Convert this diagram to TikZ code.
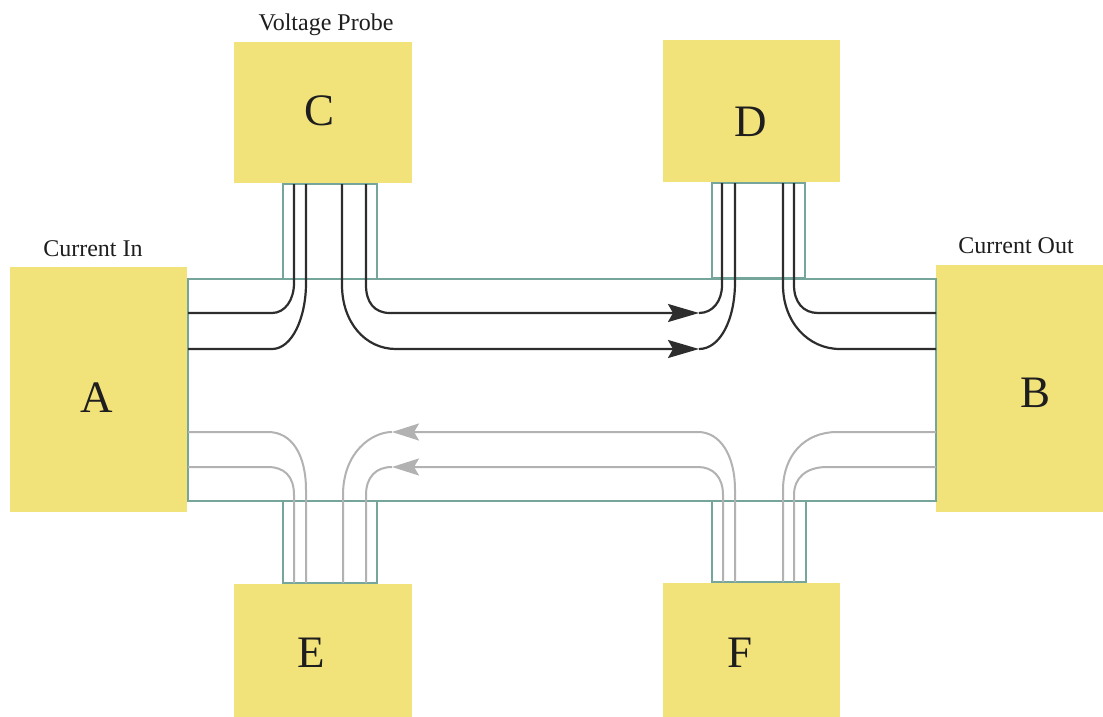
\documentclass[tikz,border=0pt]{standalone}
\usepackage{fontspec}
\setmainfont{Liberation Serif}
\usetikzlibrary{arrows.meta}
\definecolor{padyellow}{RGB}{242,226,122}
\definecolor{chanedge}{RGB}{118,165,155}
\definecolor{darkflow}{RGB}{45,45,45}
\definecolor{lightflow}{RGB}{178,178,178}
\definecolor{inktext}{RGB}{30,30,30}
\tikzset{
  pad/.style={fill=padyellow},
  chan/.style={draw=chanedge, line width=1.2pt},
  darkline/.style={draw=darkflow, line width=2.2pt},
  lightline/.style={draw=lightflow, line width=2pt},
  darktip/.style={-{Stealth[length=31pt,width=18pt,inset=5pt]}},
  lighttip/.style={-{Stealth[length=27pt,width=17pt,inset=5pt]}},
  caption/.style={text=inktext, font=\fontsize{24}{28}\selectfont, inner sep=0pt},
  padletter/.style={text=inktext, font=\fontsize{45}{50}\selectfont, inner sep=0pt, anchor=base},
}
\begin{document}
\begin{tikzpicture}[x=1pt,y=-1pt]
\useasboundingbox (0,0) rectangle (1103,717);
\fill[white] (0,0) rectangle (1103,717);

% contact pads
\fill[pad] (10,267) rectangle (187,512);
\fill[pad] (936,265) rectangle (1103,512);
\fill[pad] (234,42) rectangle (412,183);
\fill[pad] (663,40) rectangle (840,182);
\fill[pad] (234,584) rectangle (412,717);
\fill[pad] (663,583) rectangle (840,717);

% Hall bar channel and its four arms
\draw[chan] (188,279) rectangle (936,501);
\draw[chan] (283,184) rectangle (377,279);
\draw[chan] (712,183) rectangle (805,278);
\draw[chan] (283,501) rectangle (377,583);
\draw[chan] (712,501) rectangle (806,582);

% edge states along the upper edge (dark)
\draw[darkline] (188,313) -- (272,313) .. controls (285,313) and (294,300) .. (294,283) -- (294,184);
\draw[darkline] (188,349) -- (272,349) .. controls (292,349) and (306,318) .. (306,283) -- (306,184);
\draw[darkline, darktip] (366,184) -- (366,285) .. controls (366,302) and (374,313) .. (390,313) -- (699,313);
\draw[darkline, darktip] (342,184) -- (342,285) .. controls (342,322) and (365,349) .. (396,349) -- (699,349);
\draw[darkline] (699,313) .. controls (713,313) and (722,301) .. (722,285) -- (722,183);
\draw[darkline] (699,349) .. controls (720,349) and (735,320) .. (735,282) -- (735,183);
\draw[darkline] (783,183) -- (783,285) .. controls (783,322) and (808,349) .. (840,349) -- (936,349);
\draw[darkline] (794,183) -- (794,285) .. controls (794,302) and (803,313) .. (818,313) -- (936,313);

% edge states along the lower edge (light)
\draw[lightline] (188,432) -- (268,432) .. controls (292,432) and (306,455) .. (306,490) -- (306,583);
\draw[lightline] (188,467) -- (268,467) .. controls (284,467) and (294,476) .. (294,495) -- (294,583);
\draw[lightline, lighttip] (735,582) -- (735,490) .. controls (735,455) and (720,432) .. (698,432) -- (392,432);
\draw[lightline, lighttip] (723,582) -- (723,495) .. controls (723,477) and (713,467) .. (698,467) -- (392,467);
\draw[lightline] (392,432) .. controls (372,432) and (343,452) .. (343,495) -- (343,583);
\draw[lightline] (392,467) .. controls (376,467) and (366,477) .. (366,495) -- (366,583);
\draw[lightline] (783,582) -- (783,490) .. controls (783,455) and (805,432) .. (837,432) -- (936,432);
\draw[lightline] (794,582) -- (794,495) .. controls (794,478) and (806,467) .. (827,467) -- (936,467);

% captions
\node[caption, anchor=base] (vprobe) at (326,31) {Voltage Probe};
\node[caption, anchor=base] (curin) at (93,256) {Current In};
\node[caption, anchor=base] (curout) at (1016,253) {Current Out};

% pad letters
\node[padletter] (la) at (97,412) {A};
\node[padletter] (lb) at (1035,407) {B};
\node[padletter] (lc) at (320,125) {C};
\node[padletter] (ld) at (751,136) {D};
\node[padletter] (le) at (311,667) {E};
\node[padletter] (lf) at (740,667) {F};
\end{tikzpicture}
\end{document}
